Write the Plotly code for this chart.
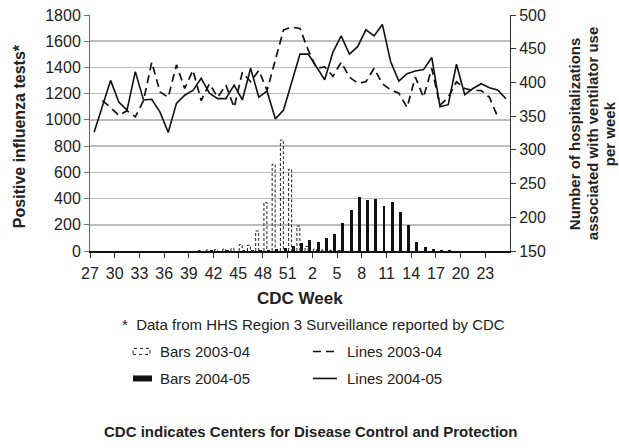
import plotly.graph_objects as go

# ---------------- data ----------------
weeks = [27, 28, 29, 30, 31, 32, 33, 34, 35, 36, 37, 38, 39, 40, 41, 42, 43, 44, 45, 46,
         47, 48, 49, 50, 51, 52, 1, 2, 3, 4, 5, 6, 7, 8, 9, 10, 11, 12, 13, 14,
         15, 16, 17, 18, 19, 20, 21, 22, 23, 24, 25]

bars_2003_04 = [0, 0, 0, 0, 0, 0, 0, 0, 0, 0, 0, 0, 0, 3, 8, 10, 15, 20, 49, 44,
                153, 370, 662, 846, 624, 191, 35, 15, 8, 5, 3, 0, 0, 0, 0, 0, 0, 0, 0, 0,
                0, 0, 0, 0, 0, 0, 0, 0, 0, 0, 0]

bars_2004_05 = [0, 0, 0, 0, 0, 0, 0, 0, 0, 0, 0, 0, 0, 3, 8, 3, 10, 3, 5, 5,
                8, 10, 15, 23, 38, 61, 82, 69, 99, 133, 214, 311, 413, 387, 397, 344, 374, 298, 202, 69,
                28, 15, 10, 5, 3, 2, 0, 0, 0, 0, 0]

lines_2003_04 = [None, 373, 363, 351, 358, 349, 373, 430, 386, 378, 426, 391, 418, 373, 398, 378, 396, 363, 415, 401,
                 418, 388, 433, 478, 482, 480, 448, 421, 423, 409, 430, 408, 399, 401, 421, 398, 389, 384, 363, 408,
                 378, 421, 366, 378, 401, 391, 388, 388, 378, 349, None]

lines_2004_05 = [326, 365, 403, 371, 359, 416, 374, 375, 356, 326, 369, 381, 388, 406, 384, 376, 376, 396, 374, 421,
                 378, 387, 346, 359, 401, 442, 442, 423, 404, 445, 469, 442, 453, 478, 469, 486, 431, 402, 413, 417,
                 419, 437, 364, 367, 427, 382, 391, 398, 392, 389, 376]

left_ticks = [0, 200, 400, 600, 800, 1000, 1200, 1400, 1600, 1800]
right_ticks = [150, 200, 250, 300, 350, 400, 450, 500]

# ---------------- layout helpers ----------------
W, H = 619, 448
L, R, T, B = 90, 510, 15, 250.7
FONT = "Liberation Sans, Arial, Helvetica, sans-serif"


def xp(px):
    return (px - L) / (R - L)


def yp(py):
    return (B - py) / (B - T)


idx = list(range(len(weeks)))
BW = 0.36

fig = go.Figure()

# dashed-outline bars 2003-04 (outlines built from the data values)
ox, oy = [], []
for i, v in zip(idx, bars_2003_04):
    if v and v > 0:
        x0, x1 = i - 0.02 - BW, i - 0.02
        ox += [x0, x0, x1, x1, None]
        oy += [0, v, v, 0, None]
fig.add_trace(go.Scatter(x=ox, y=oy, mode="lines", yaxis="y",
                         line=dict(color="#222", width=1, dash="3px,2px"),
                         hoverinfo="skip", showlegend=False))

# solid bars 2004-05
fig.add_trace(go.Bar(x=idx, y=bars_2004_05, width=BW, offset=0.02, yaxis="y",
                     marker=dict(color="#111", line=dict(width=0)), showlegend=False))

# lines on the secondary axis
fig.add_trace(go.Scatter(x=idx, y=lines_2003_04, mode="lines", yaxis="y2",
                         line=dict(color="#111", width=1.7, dash="8px,5px"),
                         connectgaps=False, showlegend=False))
fig.add_trace(go.Scatter(x=idx, y=lines_2004_05, mode="lines", yaxis="y2",
                         line=dict(color="#111", width=1.6), showlegend=False))

tickpos = [i - 0.5 for i in idx[::3]]
ticktext = [str(w) for w in weeks[::3]]

fig.update_layout(
    width=W, height=H,
    margin=dict(l=L, r=W - R, t=T, b=H - B, autoexpand=False),
    paper_bgcolor="white", plot_bgcolor="white",
    font=dict(family=FONT, size=16, color="#222"),
    bargap=0,
    hovermode=False,
    xaxis=dict(range=[-0.5, len(weeks) - 0.5], tickmode="array", tickvals=tickpos, ticktext=ticktext,
               ticks="outside", ticklen=5, tickcolor="#333", showline=True, linecolor="#111", linewidth=1.5,
               showgrid=False, zeroline=False, tickfont=dict(size=16), automargin=False,
               ticklabelstandoff=2),
    yaxis=dict(range=[0, 1800], tickmode="array", tickvals=left_ticks, ticks="outside", ticklen=5,
               tickcolor="#777", showline=True, linecolor="#666", linewidth=1,
               showgrid=True, gridcolor="#bdbdbd", gridwidth=1.5, zeroline=False, tickfont=dict(size=16),
               automargin=False),
    yaxis2=dict(range=[150, 500], tickmode="array", tickvals=right_ticks, overlaying="y", side="right",
                ticks="outside", ticklen=5, tickcolor="#333", showline=True, linecolor="#333", linewidth=1,
                showgrid=False, zeroline=False, tickfont=dict(size=16), automargin=False),
)

ann = []
ann.append(dict(text="<b>CDC Week</b>", x=xp(300), y=yp(298), xref="paper", yref="paper",
                showarrow=False, font=dict(size=17), xanchor="center", yanchor="middle"))
ann.append(dict(text="<b>Positive influenza tests*</b>", x=xp(19), y=yp(136), xref="paper", yref="paper",
                showarrow=False, textangle=-90, font=dict(size=16), xanchor="center", yanchor="middle"))
for px, txt in [(574, "Number of hospitalizations"), (592, "associated with ventilator use"), (609, "per week")]:
    ann.append(dict(text="<b>" + txt + "</b>", x=xp(px), y=yp(134), xref="paper", yref="paper",
                    showarrow=False, textangle=-90, font=dict(size=15), xanchor="center", yanchor="middle"))
ann.append(dict(text="*  Data from HHS Region 3 Surveillance reported by CDC", x=xp(313), y=yp(324),
                xref="paper", yref="paper", showarrow=False, font=dict(size=15), xanchor="center", yanchor="middle"))
ann.append(dict(text="<b>CDC indicates Centers for Disease Control and Protection</b>", x=xp(310), y=yp(431),
                xref="paper", yref="paper", showarrow=False, font=dict(size=15), xanchor="center", yanchor="middle"))

legend_rows = [(351, "Bars 2003-04", "Lines 2003-04"), (378, "Bars 2004-05", "Lines 2004-05")]
for py, t1, t2 in legend_rows:
    ann.append(dict(text=t1, x=xp(158), y=yp(py), xref="paper", yref="paper", showarrow=False,
                    font=dict(size=15), xanchor="left", yanchor="middle"))
    ann.append(dict(text=t2, x=xp(345), y=yp(py), xref="paper", yref="paper", showarrow=False,
                    font=dict(size=15), xanchor="left", yanchor="middle"))

shapes = [
    dict(type="rect", xref="paper", yref="paper", x0=xp(133), x1=xp(150), y0=yp(354), y1=yp(348),
         line=dict(color="#222", width=1, dash="dot"), fillcolor="white"),
    dict(type="rect", xref="paper", yref="paper", x0=xp(133), x1=xp(152), y0=yp(381), y1=yp(375),
         line=dict(width=0), fillcolor="#111"),
    dict(type="line", xref="paper", yref="paper", x0=xp(313), x1=xp(337), y0=yp(351), y1=yp(351),
         line=dict(color="#111", width=1.6, dash="8px,5px")),
    dict(type="line", xref="paper", yref="paper", x0=xp(313), x1=xp(337), y0=yp(378), y1=yp(378),
         line=dict(color="#111", width=1.6)),
]

fig.update_layout(annotations=ann, shapes=shapes)
fig.write_html("out.html", config={"displayModeBar": False, "staticPlot": True},
               post_script="document.body.style.margin='0';document.body.style.padding='0';")
